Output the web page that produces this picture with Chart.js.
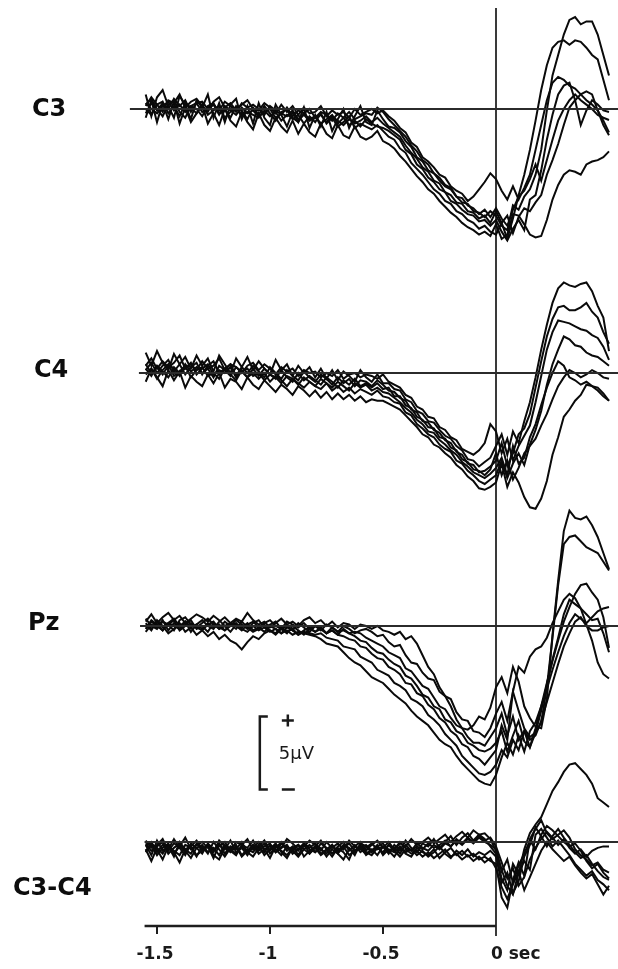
<!DOCTYPE html>
<html lang="en">
<head>
<meta charset="UTF-8">
<title>Readiness potentials C3 / C4 / Pz</title>
<script src="https://cdn.jsdelivr.net/npm/chart.js"></script>
<style>
  html, body { margin: 0; padding: 0; background: #fff; }
  canvas { display: block; }
</style>
</head>
<body>
<canvas id="rp" width="618" height="969"></canvas>
<script>
// sample times in seconds relative to movement onset
const times = [
  -1.55,-1.525,-1.5,-1.475,-1.45,-1.425,-1.4,-1.375,-1.35,-1.325,
  -1.3,-1.275,-1.25,-1.225,-1.2,-1.175,-1.15,-1.125,-1.1,-1.075,
  -1.05,-1.025,-1,-0.975,-0.95,-0.925,-0.9,-0.875,-0.85,-0.825,
  -0.8,-0.775,-0.75,-0.725,-0.7,-0.675,-0.65,-0.625,-0.6,-0.575,
  -0.55,-0.525,-0.5,-0.475,-0.45,-0.425,-0.4,-0.375,-0.35,-0.325,
  -0.3,-0.275,-0.25,-0.225,-0.2,-0.175,-0.15,-0.125,-0.1,-0.075,
  -0.05,-0.025,0,0.025,0.05,0.075,0.1,0.125,0.15,0.175,
  0.2,0.225,0.25,0.275,0.3,0.325,0.35,0.375,0.4,0.425,
  0.45,0.475,0.5
];

// C3 sweeps (µV)
const c3_1 = [1.0,-0.5,0.8,1.3,0.2,-0.6,0.9,0.3,-0.7,0.6,
  0.1,1.0,-0.6,0.4,-0.9,0.3,0.7,-0.7,0.2,-1.0,
  0.4,-0.6,-1.1,0.3,-0.4,-1.2,-0.2,-0.9,0.1,-1.3,
  -0.4,-1.2,-0.2,-1.5,-0.7,0.0,-1.3,-0.5,0.2,-0.9,
  -1.1,-0.1,-0.7,-1.2,-1.3,-1.6,-2.2,-2.6,-3.3,-3.6,
  -4.2,-4.4,-4.9,-5.3,-5.5,-6.0,-6.4,-6.5,-7.0,-7.1,
  -7.4,-7.0,-7.3,-8.0,-8.3,-6.6,-6.9,-6.0,-5.5,-4.5,
  -2.8,-0.1,2.3,3.7,5.1,6.1,6.3,5.8,6.0,6.0,
  5.1,3.7,2.3];
const c3_2 = [-0.3,0.4,0.0,-0.5,0.3,0.6,-0.2,-0.6,0.2,0.0,
  -0.5,0.2,0.4,-0.3,0.0,-0.6,0.2,-0.1,-0.7,0.1,
  -0.4,0.2,-0.3,-0.8,-0.2,0.0,-0.7,-0.4,-1.0,-0.5,
  -0.9,-0.3,-1.0,-0.6,-1.2,-0.9,-0.5,-1.3,-1.0,-1.2,
  -1.4,-1.1,-1.5,-1.9,-2.1,-2.7,-3.0,-3.7,-4.1,-4.5,
  -5.0,-5.5,-5.8,-6.3,-6.5,-7.0,-7.2,-7.6,-7.8,-8.2,
  -8.0,-8.4,-8.6,-7.8,-8.9,-7.5,-5.9,-4.5,-2.8,-0.8,
  1.3,3.0,4.2,4.6,4.7,4.4,4.7,4.6,4.2,3.7,
  3.4,2.0,0.6];
const c3_3 = [0.2,0.8,0.3,-0.2,0.6,0.4,1.0,0.1,0.5,0.7,
  0.2,-0.2,0.5,0.8,0.1,0.4,-0.1,0.3,0.6,0.0,
  -0.1,0.4,0.1,-0.3,0.3,-0.2,0.2,-0.4,0.1,-0.3,
  -0.2,0.2,-0.5,-0.1,-0.4,-0.2,-0.6,0.0,-0.4,-0.2,
  0.0,-0.3,-0.1,-0.5,-0.8,-1.3,-1.6,-2.3,-2.6,-3.3,
  -3.6,-4.0,-4.5,-4.7,-5.3,-5.6,-5.8,-6.3,-6.0,-5.5,
  -5.0,-4.4,-4.8,-5.6,-6.2,-5.3,-6.2,-5.4,-4.5,-2.8,
  -1.1,0.6,1.8,2.2,2.0,1.6,1.4,1.0,0.6,0.3,
  -0.1,-0.8,-1.6];
const c3_4 = [0.0,-0.4,0.3,0.5,-0.3,0.2,-0.5,0.4,0.1,-0.3,
  0.3,-0.4,-0.1,0.2,-0.6,-0.2,0.1,-0.5,-0.2,-0.4,
  -0.6,-0.1,-0.5,-0.2,-0.8,-0.4,-0.6,-0.9,-0.3,-0.7,
  -0.5,-1.0,-0.7,-0.4,-1.0,-0.6,-1.1,-0.8,-1.2,-0.7,
  -1.0,-1.2,-1.3,-1.5,-1.8,-2.1,-2.8,-3.1,-3.8,-4.1,
  -4.7,-5.0,-5.5,-5.7,-6.3,-6.5,-6.9,-7.2,-7.3,-7.7,
  -7.6,-8.0,-7.6,-8.4,-9.0,-8.2,-7.6,-8.3,-6.2,-5.9,
  -4.2,-2.1,-0.4,1.0,1.6,1.8,0.6,-1.1,-0.1,0.6,
  0.3,-0.1,-0.2];
const c3_5 = [0.4,0.0,-0.3,0.2,0.5,-0.1,0.3,-0.2,0.2,0.4,
  -0.2,0.1,0.3,-0.4,0.2,-0.1,-0.4,0.1,-0.3,-0.1,
  -0.5,-0.2,0.0,-0.6,-0.3,-0.5,-0.1,-0.7,-0.4,-0.8,
  -0.6,-0.4,-0.9,-0.5,-0.8,-1.1,-0.7,-1.0,-0.8,-0.5,
  -0.9,-0.6,-1.0,-1.3,-1.6,-1.9,-2.5,-3.0,-3.4,-4.0,
  -4.3,-4.9,-5.1,-5.7,-5.9,-6.4,-6.5,-7.0,-7.1,-7.5,
  -7.3,-7.8,-7.0,-7.8,-7.3,-8.5,-7.4,-6.8,-7.0,-6.4,
  -5.9,-4.5,-3.5,-2.4,-1.1,0.1,0.6,1.0,1.2,1.0,
  -0.1,-1.1,-1.8];
const c3_6 = [-0.6,0.6,-0.9,0.4,-0.7,0.5,-1.0,0.1,-0.9,-0.3,
  0.3,-1.0,-0.3,-1.1,0.0,-0.8,-1.2,-0.2,-0.9,-1.4,
  -0.3,-1.1,-1.5,-0.6,-1.2,-1.6,-0.8,-1.7,-1.0,-1.6,
  -1.9,-1.0,-1.7,-2.0,-1.1,-1.8,-2.0,-1.2,-1.9,-2.1,
  -1.9,-1.5,-2.2,-2.4,-2.7,-3.2,-3.6,-4.1,-4.6,-5.0,
  -5.5,-5.8,-6.3,-6.7,-7.1,-7.4,-7.8,-8.1,-8.3,-8.6,
  -8.4,-8.7,-7.9,-8.9,-8.6,-7.2,-7.3,-7.9,-8.6,-8.8,
  -8.7,-7.6,-6.2,-5.2,-4.5,-4.2,-4.3,-4.5,-3.8,-3.6,
  -3.5,-3.3,-2.9];
const c3_7 = [0.3,0.7,-0.1,0.4,0.0,0.7,0.2,0.6,-0.2,0.4,
  0.5,0.0,0.3,-0.1,0.5,0.2,-0.2,0.4,0.1,0.3,
  0.0,-0.4,0.2,-0.1,-0.4,0.1,-0.5,-0.1,-0.3,0.0,
  -0.6,-0.2,-0.4,-0.8,-0.3,-0.6,-0.2,-0.7,-0.5,-0.3,
  -0.4,0.1,-0.2,-0.7,-1.1,-1.5,-1.9,-2.5,-2.9,-3.5,
  -3.8,-4.4,-4.7,-5.2,-5.4,-6.0,-6.1,-6.6,-6.8,-7.2,
  -6.9,-7.4,-6.8,-7.5,-8.0,-6.9,-6.0,-5.6,-4.8,-3.8,
  -4.9,-3.5,-2.1,-0.8,0.0,0.6,1.0,0.6,0.3,0.0,
  -0.4,-0.6,-0.75];

// C4 sweeps (µV)
const c4_1 = [1.4,0.5,1.5,0.7,0.2,1.3,0.6,1.1,0.3,1.2,
  0.5,1.0,0.1,1.2,0.6,0.0,1.0,0.4,1.1,0.2,
  0.8,0.3,-0.1,0.9,0.2,0.6,-0.2,0.5,0.0,0.4,
  -0.3,0.3,-0.4,0.2,-0.5,0.1,-0.2,-0.6,0.2,-0.3,
  -0.6,-0.1,-0.7,-0.7,-1.1,-1.2,-1.8,-2.0,-2.6,-2.8,
  -3.3,-3.4,-3.9,-4.3,-4.5,-5.0,-5.3,-5.9,-6.0,-6.4,
  -6.1,-5.8,-5.0,-4.2,-5.6,-4.0,-4.8,-3.3,-2.0,-0.3,
  1.6,3.3,4.8,5.8,6.2,6.0,5.9,6.1,6.2,5.6,
  4.6,3.8,1.5];
const c4_2 = [0.2,0.7,0.0,0.5,0.9,0.1,0.6,-0.1,0.4,0.7,
  -0.1,0.5,0.8,0.0,0.3,0.6,-0.2,0.4,0.0,0.5,
  0.1,-0.3,0.4,0.0,-0.4,0.2,-0.2,-0.5,0.1,-0.3,
  -0.6,-0.1,-0.4,-0.8,-0.3,-0.7,-0.4,-0.9,-0.5,-0.6,
  -0.9,-0.5,-0.8,-1.2,-1.3,-1.7,-1.9,-2.5,-2.7,-3.3,
  -3.4,-3.9,-4.1,-4.6,-4.8,-5.4,-5.6,-6.2,-6.3,-6.8,
  -6.7,-6.4,-6.0,-4.8,-6.4,-5.5,-4.2,-3.8,-2.8,-1.0,
  0.8,2.5,3.7,4.5,4.6,4.3,4.3,4.5,4.8,4.2,
  3.8,2.8,2.0];
const c4_3 = [0.5,1.0,0.3,0.8,0.4,0.7,1.2,0.3,0.6,0.2,
  0.8,0.3,0.5,1.0,0.2,0.6,0.4,0.0,0.5,0.7,
  0.2,0.6,0.3,-0.1,0.4,0.1,0.3,-0.2,0.2,0.0,
  0.1,-0.3,0.0,-0.2,0.2,-0.4,-0.1,0.0,-0.3,-0.1,
  -0.2,-0.4,-0.1,-0.6,-0.8,-1.0,-1.5,-1.7,-2.3,-2.5,
  -3.0,-3.1,-3.7,-3.9,-4.4,-4.6,-5.2,-5.4,-5.6,-5.3,
  -4.8,-3.5,-4.0,-5.5,-4.5,-6.0,-5.0,-4.3,-3.6,-2.0,
  -0.2,1.6,2.8,3.6,3.5,3.4,3.2,3.0,2.9,2.6,
  2.4,1.8,0.9];
const c4_4 = [-0.1,0.3,-0.4,0.2,0.6,-0.2,0.1,0.5,-0.3,0.2,
  0.4,-0.2,0.0,-0.4,0.3,-0.1,-0.5,0.2,-0.3,0.0,
  -0.4,0.0,-0.6,-0.2,-0.5,-0.9,-0.4,-0.7,-1.0,-0.6,
  -0.9,-1.1,-0.7,-1.2,-0.9,-1.3,-1.0,-1.4,-1.1,-1.3,
  -1.5,-1.2,-1.6,-1.7,-2.0,-2.1,-2.7,-2.9,-3.5,-3.8,
  -4.2,-4.4,-4.9,-5.2,-5.4,-6.0,-6.2,-6.7,-7.0,-7.4,
  -7.6,-7.3,-7.0,-6.0,-7.2,-6.2,-5.5,-6.3,-4.9,-3.9,
  -2.6,-0.8,0.6,1.6,2.5,2.3,1.9,1.8,1.4,1.2,
  1.1,0.8,0.5];
const c4_5 = [0.6,0.0,0.4,-0.1,0.5,0.3,-0.2,0.6,0.1,0.4,
  0.0,0.3,-0.3,0.5,0.2,-0.2,0.4,0.1,-0.3,0.3,
  -0.2,0.3,-0.1,-0.4,0.2,-0.3,-0.6,0.0,-0.5,-0.2,
  -0.5,-0.8,-0.3,-0.6,-1.0,-0.5,-0.8,-0.4,-0.9,-0.7,
  -1.0,-0.7,-1.1,-1.0,-1.6,-1.6,-2.2,-2.4,-3.0,-3.2,
  -3.7,-3.8,-4.4,-4.5,-5.1,-5.3,-5.9,-6.1,-6.6,-6.7,
  -7.0,-6.6,-5.5,-7.0,-6.0,-7.3,-6.5,-5.5,-5.0,-4.5,
  -3.6,-2.8,-1.8,-0.9,-0.3,0.2,0.0,-0.3,-0.1,0.2,
  0.0,-0.3,-0.4];
const c4_6 = [-0.6,0.3,-0.3,-0.9,0.2,-0.5,0.1,-1.0,-0.2,-0.6,
  -0.9,-0.1,-0.7,0.0,-1.0,-0.4,-0.6,-1.1,-0.3,-0.8,
  -1.1,-0.5,-0.9,-1.3,-0.8,-1.1,-1.5,-0.9,-1.2,-1.6,
  -1.2,-1.7,-1.3,-1.8,-1.4,-1.8,-1.5,-1.9,-1.6,-2.0,
  -1.8,-1.9,-1.9,-2.1,-2.3,-2.5,-2.9,-3.3,-3.7,-4.2,
  -4.4,-4.9,-5.1,-5.5,-5.8,-6.3,-6.6,-7.1,-7.4,-7.9,
  -8.0,-7.8,-7.5,-6.2,-7.8,-6.8,-7.5,-8.5,-9.2,-9.3,
  -8.6,-7.4,-5.6,-4.4,-3.0,-2.5,-1.9,-1.5,-0.8,-0.9,
  -1.0,-1.4,-1.9];
const c4_7 = [0.3,-0.2,0.5,0.1,-0.3,0.4,0.0,0.3,0.7,-0.1,
  0.3,0.6,-0.1,0.2,0.0,0.4,-0.3,0.1,0.3,-0.2,
  0.0,-0.5,-0.1,-0.3,-0.7,-0.2,-0.4,-0.8,-0.3,-0.6,
  -0.9,-0.4,-0.7,-1.0,-0.6,-0.9,-1.2,-0.7,-1.0,-0.8,
  -1.2,-1.0,-1.3,-1.4,-1.7,-2.0,-2.4,-2.7,-3.2,-3.5,
  -4.0,-4.1,-4.6,-4.9,-5.3,-5.6,-6.1,-6.4,-6.8,-7.0,
  -7.2,-6.9,-6.5,-5.8,-7.0,-5.0,-6.2,-5.8,-4.4,-3.5,
  -2.2,-1.0,0.0,0.8,0.5,-0.3,-0.5,-0.8,-0.6,-0.9,
  -1.2,-1.6,-1.9];

// Pz sweeps (µV)
const pz_1 = [0.3,0.8,0.2,0.6,0.9,0.4,0.7,0.2,0.5,0.8,
  0.6,0.3,0.7,0.4,0.0,0.2,0.5,0.3,0.9,0.4,
  0.1,0.3,-0.1,0.2,0.5,0.1,0.3,0.0,0.4,0.6,
  0.2,0.4,0.0,0.3,-0.1,0.2,0.1,-0.2,0.1,0.0,
  -0.2,0.0,-0.3,-0.4,-0.6,-0.4,-0.9,-0.7,-1.2,-2.0,
  -2.8,-3.3,-4.2,-4.8,-5.5,-6.4,-7.0,-7.1,-6.8,-6.2,
  -6.4,-5.6,-4.2,-3.5,-4.6,-2.8,-3.8,-5.5,-6.3,-6.9,
  -7.0,-5.0,-0.6,3.1,6.5,7.9,7.4,7.3,7.5,6.9,
  6.1,5.0,3.9];
const pz_2 = [-0.2,0.4,0.1,-0.3,0.2,0.5,0.0,0.3,-0.4,0.1,
  0.4,0.0,-0.2,0.3,0.6,0.2,0.0,-0.3,0.1,0.3,
  -0.1,0.2,0.4,0.0,-0.2,0.3,0.1,-0.1,0.2,-0.2,
  0.0,-0.3,0.1,-0.1,-0.4,0.0,-0.2,-0.5,-0.3,-0.2,
  -0.4,-0.7,-0.6,-1.1,-1.4,-1.3,-2.0,-2.5,-2.6,-3.2,
  -3.6,-3.7,-4.5,-4.8,-5.0,-5.9,-6.4,-6.5,-7.2,-7.3,
  -7.6,-7.0,-6.0,-5.2,-6.5,-4.5,-5.8,-7.0,-7.6,-7.3,
  -6.6,-4.2,-0.8,2.8,5.6,6.1,6.2,5.8,5.4,5.2,
  5.0,4.4,3.8];
const pz_3 = [0.1,-0.3,0.4,0.0,-0.5,-0.2,0.2,-0.4,-0.1,-0.6,
  -0.3,-0.7,-0.4,-0.9,-0.6,-1.0,-1.2,-1.6,-1.1,-0.7,
  -0.9,-0.5,-0.3,-0.6,-0.2,-0.5,0.0,-0.3,-0.6,-0.2,
  -0.4,-0.1,-0.5,-0.3,-0.6,-0.2,-0.5,-0.4,-0.5,-0.8,
  -1.0,-1.2,-1.4,-1.8,-2.0,-2.2,-2.9,-3.1,-3.6,-4.1,
  -4.3,-4.9,-5.5,-5.7,-6.3,-6.8,-7.0,-7.6,-8.0,-8.0,
  -8.2,-7.6,-7.0,-6.0,-7.5,-6.2,-7.8,-7.2,-8.3,-7.0,
  -5.5,-3.9,-2.4,-1.0,0.3,1.3,2.2,2.8,2.9,2.3,
  1.8,0.6,-1.5];
const pz_4 = [0.5,0.0,-0.2,0.3,0.1,-0.3,0.4,0.6,0.1,-0.1,
  0.2,0.5,0.1,-0.2,0.3,0.0,0.4,0.1,-0.2,0.2,
  0.4,-0.1,0.1,0.3,-0.2,0.0,-0.3,0.2,-0.1,-0.4,
  0.0,-0.2,-0.5,-0.1,-0.4,-0.3,-0.5,-0.7,-1.0,-1.1,
  -1.5,-1.8,-1.9,-2.3,-2.6,-2.8,-3.4,-3.6,-4.1,-4.7,
  -4.9,-5.5,-5.7,-6.4,-6.6,-7.2,-7.4,-8.0,-8.2,-8.5,
  -8.6,-8.4,-8.0,-7.2,-8.6,-7.5,-6.5,-7.9,-8.3,-7.3,
  -5.8,-4.0,-2.3,-0.8,0.8,1.8,1.5,1.2,0.1,-1.0,
  -2.5,-3.3,-3.6];
const pz_5 = [-0.4,0.1,-0.1,0.4,-0.3,0.2,-0.2,0.1,0.4,-0.2,
  0.0,-0.4,0.2,-0.1,-0.3,0.1,-0.2,0.3,-0.1,-0.4,
  -0.2,0.1,-0.3,-0.5,-0.1,-0.4,-0.2,-0.6,-0.3,-0.1,
  -0.4,-0.2,-0.5,-0.3,-0.6,-0.7,-0.9,-1.0,-1.4,-1.5,
  -1.9,-2.2,-2.3,-2.8,-3.0,-3.3,-3.9,-4.0,-4.6,-4.8,
  -5.4,-5.7,-6.3,-6.6,-7.2,-7.5,-8.1,-8.3,-8.9,-9.1,
  -9.5,-9.0,-8.5,-6.8,-7.8,-4.5,-2.8,-3.2,-2.1,-1.6,
  -1.4,-0.8,0.2,1.0,1.8,2.2,1.9,1.2,0.8,0.4,
  0.5,-0.5,-1.8];
const pz_6 = [0.2,-0.2,0.3,-0.1,0.1,0.4,-0.3,0.0,0.2,-0.1,
  -0.3,0.1,0.3,-0.2,0.0,-0.4,0.1,-0.1,0.2,-0.3,
  -0.1,-0.4,0.0,-0.2,-0.5,-0.1,-0.3,-0.6,-0.4,-0.5,
  -0.6,-0.5,-0.8,-0.9,-1.0,-1.4,-1.5,-1.6,-2.1,-2.3,
  -2.5,-3.0,-3.2,-3.4,-3.9,-4.1,-4.4,-5.0,-5.2,-5.5,
  -6.1,-6.4,-6.8,-7.4,-7.8,-8.2,-8.9,-9.3,-9.7,-10.1,
  -10.2,-10.0,-9.5,-8.5,-9.0,-7.8,-8.5,-7.2,-7.8,-7.5,
  -6.5,-5.2,-3.9,-2.6,-1.4,-0.5,0.3,0.6,0.0,-0.3,
  -0.3,-0.1,0.0];
const pz_7 = [-0.1,0.3,0.0,-0.3,0.2,0.0,-0.2,0.3,-0.1,0.1,
  -0.2,0.2,-0.1,0.1,-0.3,0.0,0.2,-0.2,-0.4,0.0,
  -0.3,-0.1,-0.4,-0.2,-0.5,-0.3,-0.6,-0.4,-0.5,-0.6,
  -0.7,-0.9,-1.2,-1.3,-1.4,-1.8,-2.2,-2.5,-2.7,-3.1,
  -3.5,-3.7,-3.9,-4.3,-4.7,-5.0,-5.3,-5.8,-6.2,-6.5,
  -6.8,-7.3,-7.8,-8.1,-8.3,-8.9,-9.4,-9.8,-10.2,-10.6,
  -10.8,-10.9,-10.2,-9.0,-8.0,-8.8,-7.5,-8.6,-7.2,-6.6,
  -5.5,-4.3,-3.0,-1.8,-0.7,0.2,0.8,0.5,0.2,0.6,
  1.0,1.2,1.3];

// C3-C4 difference sweeps (µV)
const d_1 = [-0.2,-0.9,0.1,-0.6,-0.3,-1.0,0.0,-0.5,-0.8,-0.1,
  -0.6,-0.3,-1.1,-0.2,-0.5,0.1,-0.7,-0.4,-0.9,-0.2,
  -0.5,-0.1,-0.8,-0.4,0.0,-0.6,-0.3,-0.9,-0.2,-0.5,
  -0.7,-0.1,-0.4,-0.8,-0.3,0.0,-0.6,-0.2,-0.7,-0.4,
  -0.1,-0.5,-0.3,-0.8,-0.2,-0.6,0.1,-0.4,-0.7,-0.1,
  -0.3,0.2,-0.4,0.0,0.4,-0.2,0.3,0.6,0.1,0.5,
  0.2,-0.3,-0.8,-2.5,-3.3,-1.5,-2.2,-0.5,0.6,1.2,
  1.7,2.6,3.5,4.1,4.8,5.3,5.4,5.0,4.6,4.0,
  3.0,2.7,2.4];
const d_2 = [-0.7,-0.1,-0.5,-1.2,-0.3,-0.6,-0.9,-0.2,-0.4,-1.0,
  -0.3,-0.8,0.0,-0.5,-1.0,-0.4,-0.2,-0.9,-0.5,-0.7,
  -0.2,-0.9,-0.5,-0.1,-0.7,-1.1,-0.4,-0.6,-0.1,-0.8,
  -0.4,-0.9,-0.6,-0.2,-0.8,-1.2,-0.5,-0.7,-0.3,-0.9,
  -0.6,-0.2,-0.9,-0.5,-0.7,-0.3,-0.8,-1.0,-0.4,-0.7,
  -0.9,-0.5,-1.1,-0.7,-0.4,-0.9,-0.6,-1.0,-0.8,-1.2,
  -1.0,-1.3,-1.5,-3.8,-4.5,-2.6,-1.4,-2.3,0.2,0.9,
  1.5,0.6,0.2,0.5,0.8,0.3,-0.5,-0.9,-1.2,-1.6,
  -1.4,-1.9,-2.1];
const d_3 = [0.1,-0.4,-0.2,0.2,-0.6,-0.1,-0.3,0.3,-0.5,-0.2,
  0.0,-0.4,-0.7,0.1,-0.3,-0.6,0.0,-0.2,0.2,-0.5,
  -0.3,0.1,-0.6,-0.2,-0.4,0.2,-0.1,-0.5,-0.3,0.1,
  -0.2,-0.6,0.0,-0.4,-0.1,-0.5,0.1,-0.3,0.0,-0.6,
  -0.2,0.1,-0.4,0.0,-0.5,-0.1,-0.3,0.2,-0.2,0.0,
  0.3,-0.1,0.2,0.5,0.0,0.4,0.7,0.3,0.8,0.5,
  0.6,0.2,-0.6,-1.9,-3.0,-3.6,-2.1,-1.3,-1.9,0.5,
  0.9,0.3,-0.3,0.1,-0.4,-0.9,-1.5,-1.9,-2.3,-2.0,
  -2.6,-2.9,-3.3];
const d_4 = [-0.5,-1.3,-0.4,-0.8,-0.2,-0.7,-1.4,-0.5,-0.3,-0.9,
  -0.6,-0.2,-0.9,-1.2,-0.4,-0.7,-0.3,-1.0,-0.6,-0.2,
  -0.8,-0.5,-1.1,-0.3,-0.6,-0.9,-0.4,-0.2,-1.0,-0.6,
  -0.3,-0.8,-0.5,-1.0,-0.4,-0.7,-1.2,-0.3,-0.5,-0.8,
  -0.5,-0.9,-0.3,-0.6,-1.0,-0.4,-0.7,-0.5,-0.9,-0.6,
  -1.0,-0.7,-0.3,-0.8,-1.1,-0.6,-0.9,-0.5,-1.0,-0.7,
  -0.9,-0.6,-1.0,-2.8,-2.1,-3.5,-2.7,-1.0,-0.2,1.0,
  0.4,-0.3,0.4,0.9,0.3,-0.2,-0.7,-1.1,-0.9,-1.5,
  -2.0,-2.4,-2.6];
const d_5 = [-0.3,0.0,-0.7,-0.2,-0.5,0.2,-0.4,-0.9,-0.1,-0.4,
  -0.8,-0.1,-0.5,-0.3,0.0,-0.6,-0.9,-0.2,-0.4,0.1,
  -0.6,-0.3,-0.1,-0.7,-0.4,-0.2,-0.8,-0.5,-0.1,-0.4,
  -0.1,-0.5,-0.8,-0.3,-0.6,-0.2,-0.4,-0.9,-0.1,-0.3,
  -0.7,-0.3,-0.1,-0.6,-0.4,-0.8,-0.2,-0.6,-0.3,-0.5,
  -0.1,-0.4,-0.2,0.1,-0.3,0.2,-0.1,0.3,0.0,0.4,
  0.1,0.3,-0.3,-1.4,-2.5,-1.8,-3.0,-2.4,-1.2,-0.4,
  0.2,0.7,0.3,-0.2,0.2,-0.4,-0.8,-0.5,-1.0,-0.6,
  -0.4,-0.3,-0.3];
const d_6 = [-0.6,-0.2,-0.9,-0.4,-0.1,-0.8,-0.3,-0.6,-1.1,-0.4,
  -0.2,-0.7,-0.4,-0.9,-0.2,-0.5,-0.8,-0.3,-0.7,-1.0,
  -0.4,-0.7,-0.2,-0.5,-0.9,-0.3,-0.6,-1.0,-0.5,-0.2,
  -0.7,-0.4,-1.0,-0.5,-0.8,-0.3,-0.9,-0.6,-0.2,-0.7,
  -0.9,-0.4,-0.7,-0.2,-0.6,-1.0,-0.5,-0.8,-0.6,-1.0,
  -0.7,-1.1,-0.8,-0.5,-1.0,-0.8,-1.2,-0.9,-1.3,-1.0,
  -1.4,-1.1,-1.8,-3.1,-3.9,-2.9,-2.0,-3.3,-2.4,-1.5,
  -0.6,0.0,-0.5,-0.9,-1.3,-1.0,-1.6,-2.1,-2.5,-2.2,
  -2.9,-3.6,-3.0];
const d_7 = [-0.1,-0.6,-0.3,0.0,-0.8,-0.4,-0.1,-0.7,-0.3,0.1,
  -0.5,-0.2,-0.6,-0.1,-0.8,-0.3,-0.5,0.0,-0.7,-0.4,
  0.0,-0.5,-0.3,-0.7,-0.1,-0.4,-0.6,-0.2,-0.5,-0.8,
  -0.3,0.1,-0.5,-0.2,-0.7,-0.4,-0.1,-0.6,-0.4,-0.2,
  -0.6,-0.3,-0.8,-0.2,-0.5,0.0,-0.4,-0.6,-0.1,-0.4,
  -0.6,-0.2,-0.5,-0.1,-0.3,0.1,-0.2,0.2,-0.1,0.3,
  0.0,-0.2,-0.5,-2.0,-1.2,-2.8,-1.6,-0.8,0.1,-0.5,
  0.5,1.1,0.8,0.4,0.0,-0.3,-0.1,-0.6,-1.3,-1.8,
  -1.5,-2.1,-2.5];

const panelNames = ['C3', 'C4', 'Pz', 'C3-C4'];
// start time of each zero line (s)
const zeroLineStart = [-1.62, -1.58, -1.575, -1.555];
const tickValues = [-1.5, -1, -0.5, 0];
const tickLabels = ['-1.5', '-1', '-0.5', '0 sec'];
const calibration = 5; // µV

// page layout (pixels)
const W = 618, H = 969;
const xZero = 496, pxPerSec = 226, pxPerMicroV = 14.6;
const panels = [
  { id: 'yC3',   base: 109, traces: [c3_1, c3_2, c3_3, c3_4, c3_5, c3_6, c3_7], label: [32, 110] },
  { id: 'yC4',   base: 373, traces: [c4_1, c4_2, c4_3, c4_4, c4_5, c4_6, c4_7], label: [34, 371] },
  { id: 'yPz',   base: 626, traces: [pz_1, pz_2, pz_3, pz_4, pz_5, pz_6, pz_7], label: [28, 624] },
  { id: 'yDiff', base: 842, traces: [d_1, d_2, d_3, d_4, d_5, d_6, d_7], label: [13, 889] }
];
const axisY = 926;

const datasets = [];
const scales = {
  x: { type: 'linear', display: false, min: -xZero / pxPerSec, max: (W - xZero) / pxPerSec }
};

panels.forEach((p, k) => {
  scales[p.id] = {
    type: 'linear', axis: 'y', display: false,
    min: -(H - p.base) / pxPerMicroV,
    max: p.base / pxPerMicroV
  };
  datasets.push({
    data: [{ x: zeroLineStart[k], y: 0 }, { x: 0.6, y: 0 }],
    yAxisID: p.id, borderColor: '#2b2b2b', borderWidth: 2
  });
  p.traces.forEach(tr => {
    datasets.push({
      data: tr.map((v, i) => ({ x: times[i], y: v })),
      yAxisID: p.id, borderColor: '#0a0a0a', borderWidth: 2
    });
  });
});

// onset line, time axis, panel names and calibration bar
const decorations = {
  id: 'decorations',
  beforeDatasetsDraw(chart) {
    const ctx = chart.ctx, xs = chart.scales.x;
    const x0 = xs.getPixelForValue(0);
    ctx.save();
    ctx.strokeStyle = '#3a3a3a';
    ctx.lineWidth = 2;
    ctx.beginPath();
    ctx.moveTo(x0, 8);
    ctx.lineTo(x0, 936);
    ctx.stroke();
    ctx.restore();
  },
  afterDatasetsDraw(chart) {
    const ctx = chart.ctx, xs = chart.scales.x;
    ctx.save();
    // time axis
    ctx.strokeStyle = '#1e1e1e';
    ctx.lineWidth = 2.5;
    ctx.beginPath();
    ctx.moveTo(xs.getPixelForValue(zeroLineStart[3]), axisY);
    ctx.lineTo(xs.getPixelForValue(0), axisY);
    ctx.stroke();
    ctx.lineWidth = 2;
    tickValues.slice(0, 3).forEach(t => {
      const x = xs.getPixelForValue(t);
      ctx.beginPath();
      ctx.moveTo(x, axisY);
      ctx.lineTo(x, axisY + 8);
      ctx.stroke();
    });
    ctx.fillStyle = '#1a1a1a';
    ctx.font = 'bold 17px "DejaVu Sans"';
    ctx.textBaseline = 'middle';
    tickValues.forEach((t, i) => {
      const x = xs.getPixelForValue(t);
      if (i === 3) {
        ctx.textAlign = 'left';
        ctx.fillText(tickLabels[i], x - 5, 955);
      } else {
        ctx.textAlign = 'center';
        ctx.fillText(tickLabels[i], x - 2, 955);
      }
    });

    // channel names
    ctx.font = 'bold 24px "DejaVu Sans"';
    ctx.textAlign = 'left';
    ctx.fillStyle = '#0d0d0d';
    panels.forEach((p, k) => ctx.fillText(panelNames[k], p.label[0], p.label[1]));

    // calibration bracket, drawn on the Pz scale
    const ys = chart.scales.yPz;
    const bx = xs.getPixelForValue(-1.045);
    const top = ys.getPixelForValue(-6.2);
    const bot = ys.getPixelForValue(-6.2 - calibration);
    ctx.strokeStyle = '#1a1a1a';
    ctx.lineWidth = 2.5;
    ctx.beginPath();
    ctx.moveTo(bx + 8, top);
    ctx.lineTo(bx, top);
    ctx.lineTo(bx, bot);
    ctx.lineTo(bx + 8, bot);
    ctx.stroke();
    ctx.beginPath();
    ctx.moveTo(bx + 22, top + 4); ctx.lineTo(bx + 34, top + 4);
    ctx.moveTo(bx + 28, top - 2); ctx.lineTo(bx + 28, top + 10);
    ctx.moveTo(bx + 22, bot); ctx.lineTo(bx + 35, bot);
    ctx.stroke();
    ctx.font = '18px "DejaVu Sans"';
    ctx.fillStyle = '#1a1a1a';
    ctx.fillText(calibration + 'µV', bx + 19, (top + bot) / 2 + 1);
    ctx.restore();
  }
};

new Chart(document.getElementById('rp'), {
  type: 'line',
  data: { datasets },
  options: {
    responsive: false,
    animation: false,
    events: [],
    layout: { padding: 0 },
    elements: { point: { radius: 0 }, line: { tension: 0 } },
    plugins: { legend: { display: false }, tooltip: { enabled: false } },
    scales
  },
  plugins: [decorations]
});
</script>
</body>
</html>
